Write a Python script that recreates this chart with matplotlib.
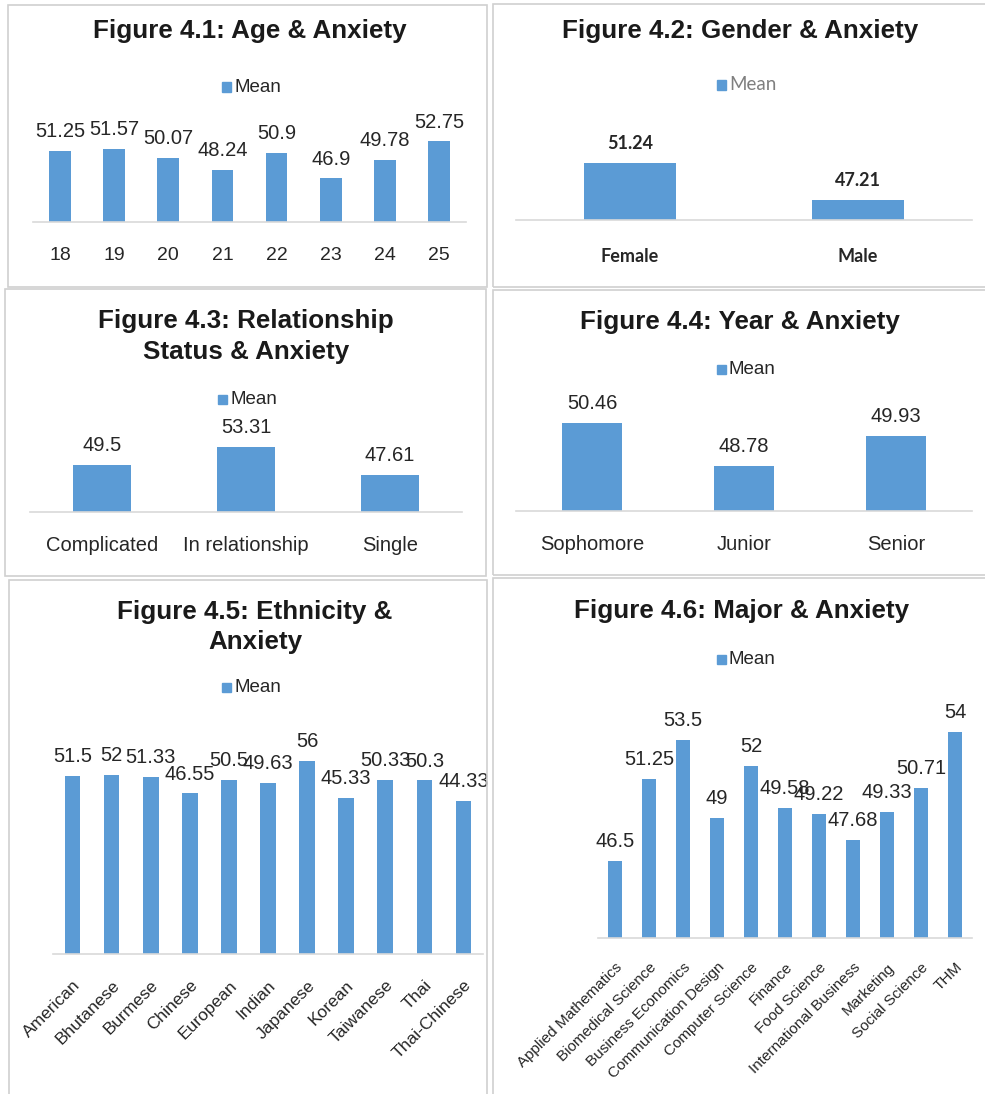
import matplotlib.pyplot as plt
from matplotlib.patches import Rectangle

W, H = 985, 1094
BLUE = "#5B9BD5"
TXT = "#262626"
GRID = "#D9D9D9"

ages = ["18", "19", "20", "21", "22", "23", "24", "25"]
age_means = [51.25, 51.57, 50.07, 48.24, 50.9, 46.9, 49.78, 52.75]

genders = ["Female", "Male"]
gender_means = [51.24, 47.21]

relationships = ["Complicated", "In relationship", "Single"]
rel_means = [49.5, 53.31, 47.61]

years = ["Sophomore", "Junior", "Senior"]
year_means = [50.46, 48.78, 49.93]

ethnicities = ["American", "Bhutanese", "Burmese", "Chinese", "European", "Indian",
               "Japanese", "Korean", "Taiwanese", "Thai", "Thai-Chinese"]
eth_means = [51.5, 52, 51.33, 46.55, 50.5, 49.63, 56, 45.33, 50.33, 50.3, 44.33]

majors = ["Applied Mathematics", "Biomedical Science", "Business Economics",
          "Communication Design", "Computer Science", "Finance", "Food Science",
          "International Business", "Marketing", "Social Science", "THM"]
major_means = [46.5, 51.25, 53.5, 49, 52, 49.58, 49.22, 47.68, 49.33, 50.71, 54]

fig = plt.figure(figsize=(W / 100, H / 100), dpi=100)
fig.patch.set_facecolor("white")


def fx(px):
    return px / W


def fy(py):
    return 1 - py / H


def border(x0, y0, x1, y1):
    fig.patches.append(Rectangle((fx(x0), fy(y1)), fx(x1 - x0), (y1 - y0) / H,
                                 transform=fig.transFigure, fill=False,
                                 edgecolor="#D0D0D0", linewidth=1.2))


def legend(x, y, family="Liberation Sans", color=TXT, weight="normal"):
    fig.patches.append(Rectangle((fx(x), fy(y + 4.5)), fx(9), 9 / H,
                                 transform=fig.transFigure, color=BLUE))
    fig.text(fx(x + 12), fy(y), "Mean", fontsize=13.5, family=family,
             color=color, weight=weight, va="center", ha="left")


def panel(cats, vals, x0, x1, ybase, ymin, ymax, pxu, rot=0, family="Liberation Sans",
          fs=14.5, tfs=14.5, pad=18, weight="normal"):
    ytop = ybase - (ymax - ymin) * pxu
    ax = fig.add_axes([fx(x0), fy(ybase), fx(x1 - x0), (ybase - ytop) / H])
    xs = range(len(cats))
    bars = ax.bar(xs, vals, width=0.4, color=BLUE, bottom=0)
    ax.set_ylim(ymin, ymax)
    ax.set_xlim(-0.5, len(cats) - 0.5)
    for b, v in zip(bars, vals):
        ax.annotate(f"{v:g}", (b.get_x() + b.get_width() / 2, v),
                    xytext=(0, 10), textcoords="offset points", ha="center",
                    va="baseline", fontsize=fs, family=family, color=TXT,
                    weight=weight, annotation_clip=False)
    for s in ["top", "right", "left"]:
        ax.spines[s].set_visible(False)
    ax.spines["bottom"].set_color(GRID)
    ax.spines["bottom"].set_linewidth(1.2)
    ax.set_yticks([])
    ax.set_xticks(list(xs))
    if rot:
        ax.set_xticklabels(cats, rotation=rot, ha="right", rotation_mode="anchor",
                           fontsize=tfs, family=family, color=TXT)
    else:
        ax.set_xticklabels(cats, fontsize=tfs, family=family, color=TXT, weight=weight)
    ax.tick_params(axis="x", length=0, pad=pad)
    ax.patch.set_alpha(0)
    return ax


# borders
border(8, 5, 487, 287)
border(493, 4, 990, 287)
border(5, 289, 486, 576)
border(493, 290, 990, 575)
border(9, 580, 487, 1100)
border(493, 578, 990, 1100)

title_kw = dict(fontsize=18.75, weight="bold", family="Liberation Sans",
                color="#1a1a1a", ha="center", va="center")

# 4.1
fig.text(fx(250), fy(31), "Figure 4.1: Age & Anxiety", **title_kw)
legend(222, 87)
panel(ages, age_means, 33, 466, 222, 40, 58, 6.32, tfs=14)

# 4.2
fig.text(fx(740), fy(31), "Figure 4.2: Gender & Anxiety", **title_kw)
legend(717, 85, family="Lato", color="#7f7f7f")
panel(genders, gender_means, 516, 972, 220, 45, 55, 9.18, family="Lato",
      fs=13, tfs=13, weight="bold", pad=20)

# 4.3
fig.text(fx(246), fy(321), "Figure 4.3: Relationship", **title_kw)
fig.text(fx(246), fy(352), "Status & Anxiety", **title_kw)
legend(218, 399)
panel(relationships, rel_means, 30, 462, 512, 40, 55, 4.91, pad=17)

# 4.4
fig.text(fx(740), fy(322), "Figure 4.4: Year & Anxiety", **title_kw)
legend(717, 370)
panel(years, year_means, 516, 972, 511, 47, 51, 25.5, pad=17)

# 4.5
fig.text(fx(255), fy(612), "Figure 4.5: Ethnicity &", **title_kw)
fig.text(fx(255), fy(642), "Anxiety", **title_kw)
legend(222, 687)
panel(ethnicities, eth_means, 53, 483, 954, 0, 60, 3.45, rot=45, tfs=12.5, pad=17)

# 4.6
fig.text(fx(742), fy(611), "Figure 4.6: Major & Anxiety", **title_kw)
legend(717, 659)
panel(majors, major_means, 598, 972, 938, 42, 55, 17.2, rot=45, tfs=11, pad=16)

fig.savefig("out.png", dpi=100)
